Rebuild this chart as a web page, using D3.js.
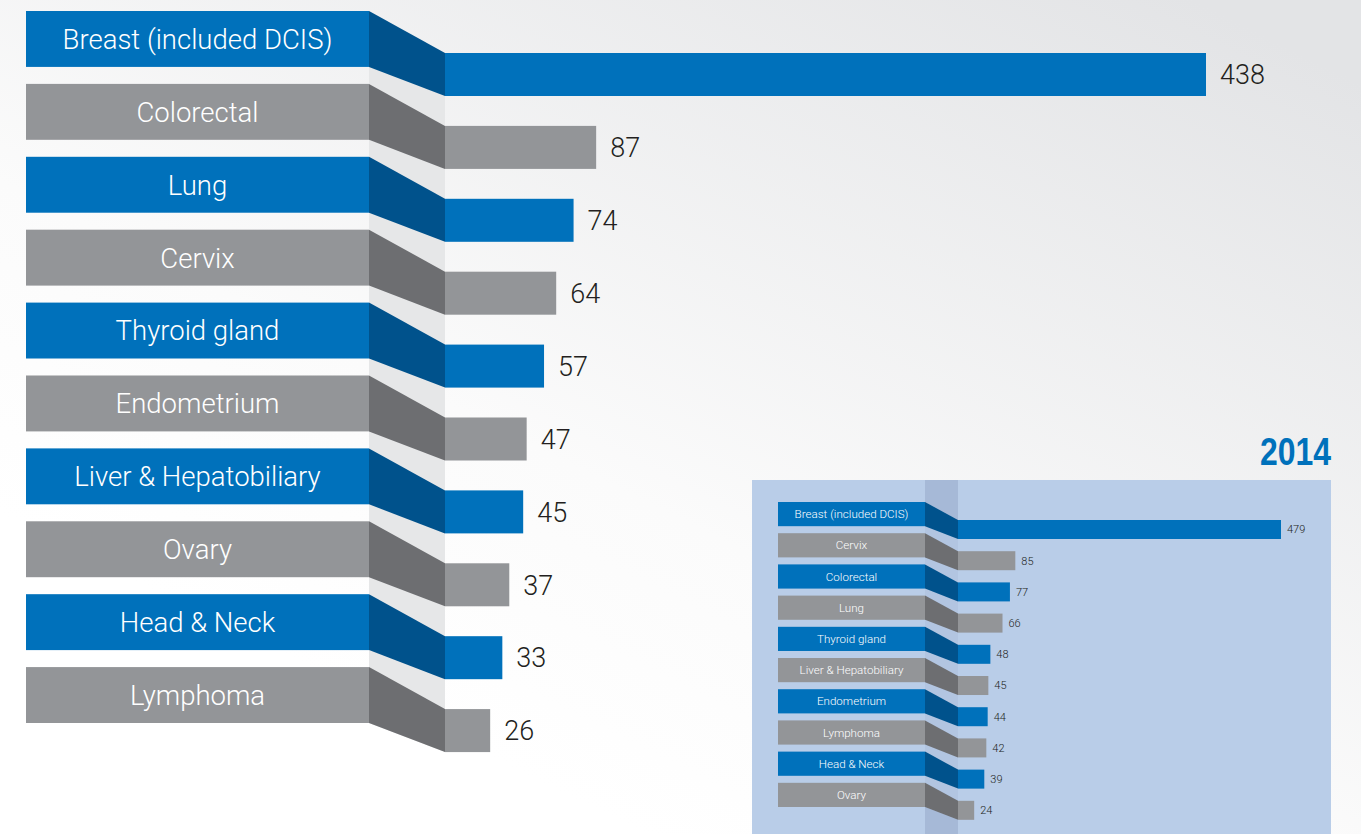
<!DOCTYPE html>
<html><head><meta charset="utf-8">
<script src="https://cdn.jsdelivr.net/npm/d3@7"></script>
<style>html,body{margin:0;padding:0;overflow:hidden;background:#fff}</style>
</head><body>
<svg id="chart" width="1361" height="834"></svg>
<script>
// ---- data ----
const mainCategories = ["Breast (included DCIS)","Colorectal","Lung","Cervix","Thyroid gland","Endometrium","Liver & Hepatobiliary","Ovary","Head & Neck","Lymphoma"];
const mainValues = [438,87,74,64,57,47,45,37,33,26];
const insetTitle = "2014";
const insetCategories = ["Breast (included DCIS)","Cervix","Colorectal","Lung","Thyroid gland","Liver & Hepatobiliary","Endometrium","Lymphoma","Head & Neck","Ovary"];
const insetValues = [479,85,77,66,48,45,44,42,39,24];

const svg = d3.select("#chart");
const defs = svg.append("defs");
const bg = defs.append("linearGradient").attr("id","bg")
  .attr("x1","0.35").attr("y1","0.9").attr("x2","1").attr("y2","0.1");
bg.append("stop").attr("offset","0").attr("stop-color","#ffffff");
bg.append("stop").attr("offset","0.3").attr("stop-color","#fbfbfb");
bg.append("stop").attr("offset","1").attr("stop-color","#e3e4e6");
svg.append("rect").attr("width",1361).attr("height",834).attr("fill","url(#bg)");

const colors = {
  blue:"#0071bb", blueDark:"#00528c",
  grey:"#939598", greyDark:"#6d6e71"
};

function drawChart(g, cats, vals, o) {
  const y = d3.scaleBand().domain(cats).range([o.top, o.bottom]).paddingInner(o.pad).paddingOuter(0);
  const x = d3.scaleLinear().domain([0, o.maxV]).range([0, o.barW]);
  const bh = y.bandwidth();
  const data = cats.map((c,i)=>({c, v:vals[i], i}));
  const first = data[0], last = data[data.length-1];
  // light band behind connectors
  g.append("polygon")
    .attr("points", [[o.boxX1, y(first.c)],[o.barX0, y(first.c)+o.barOff],
                     [o.barX0, y(last.c)+o.barOff+o.barH],[o.boxX1, y(last.c)+bh]].map(p=>p.join(",")).join(" "))
    .attr("fill", o.bandColor);
  // connectors
  g.selectAll("polygon.conn").data(data).join("polygon").attr("class","conn")
    .attr("points", d => [[o.boxX1, y(d.c)],[o.barX0, y(d.c)+o.barOff],
                          [o.barX0, y(d.c)+o.barOff+o.barH],[o.boxX1, y(d.c)+bh]].map(p=>p.join(",")).join(" "))
    .attr("fill", d => d.i%2===0 ? colors.blueDark : colors.greyDark);
  // label boxes
  g.selectAll("rect.box").data(data).join("rect").attr("class","box")
    .attr("x", o.boxX0).attr("y", d=>y(d.c)).attr("width", o.boxX1-o.boxX0).attr("height", bh)
    .attr("fill", d => d.i%2===0 ? colors.blue : colors.grey);
  g.selectAll("text.lab").data(data).join("text").attr("class","lab")
    .attr("x", (o.boxX0+o.boxX1)/2).attr("y", d=>y(d.c)+bh/2)
    .attr("dy","0.36em").attr("text-anchor","middle")
    .attr("fill","#fff").style("font-family","Roboto, 'Liberation Sans', sans-serif")
    .style("font-weight", 300).style("font-size", o.labFs+"px")
    .text(d=>d.c);
  // bars
  g.selectAll("rect.bar").data(data).join("rect").attr("class","bar")
    .attr("x", o.barX0).attr("y", d=>y(d.c)+o.barOff).attr("width", d=>x(d.v)).attr("height", o.barH)
    .attr("fill", d => d.i%2===0 ? colors.blue : colors.grey);
  g.selectAll("text.val").data(data).join("text").attr("class","val")
    .attr("x", d=>o.barX0 + x(d.v) + o.valGap).attr("y", d=>y(d.c)+o.barOff+o.barH/2)
    .attr("dy","0.36em").attr("fill","#231f20")
    .style("font-family","Roboto, 'Liberation Sans', sans-serif")
    .style("font-weight", 300).style("font-size", o.valFs+"px")
    .text(d=>d.v);
}

// main chart
drawChart(svg.append("g"), mainCategories, mainValues, {
  top:11, bottom:723, pad:0.233, boxX0:26, boxX1:369, barX0:445,
  barOff:42, barH:43, maxV:438, barW:761, labFs:27.5, valFs:27, valGap:14,
  bandColor:"#e6e7e8"
});

// inset panel
const inset = svg.append("g");
inset.append("rect").attr("x",752).attr("y",480).attr("width",579).attr("height",354).attr("fill","#b9cde8");
inset.append("rect").attr("x",925).attr("y",480).attr("width",33).attr("height",354).attr("fill","#a6b9d7");
inset.append("text").attr("x",1331).attr("y",465).attr("text-anchor","end")
  .attr("fill","#0071bb").style("font-family","'Liberation Sans Narrow','Liberation Sans', sans-serif")
  .style("font-weight","bold").style("font-size","38px")
  .attr("textLength",71).attr("lengthAdjust","spacingAndGlyphs")
  .text(insetTitle);
drawChart(inset.append("g"), insetCategories, insetValues, {
  top:502, bottom:807, pad:0.225, boxX0:778, boxX1:925, barX0:958,
  barOff:18, barH:19, maxV:479, barW:323, labFs:11.6, valFs:11, valGap:6,
  bandColor:"#b2c5e1"
});
</script>
</body></html>
